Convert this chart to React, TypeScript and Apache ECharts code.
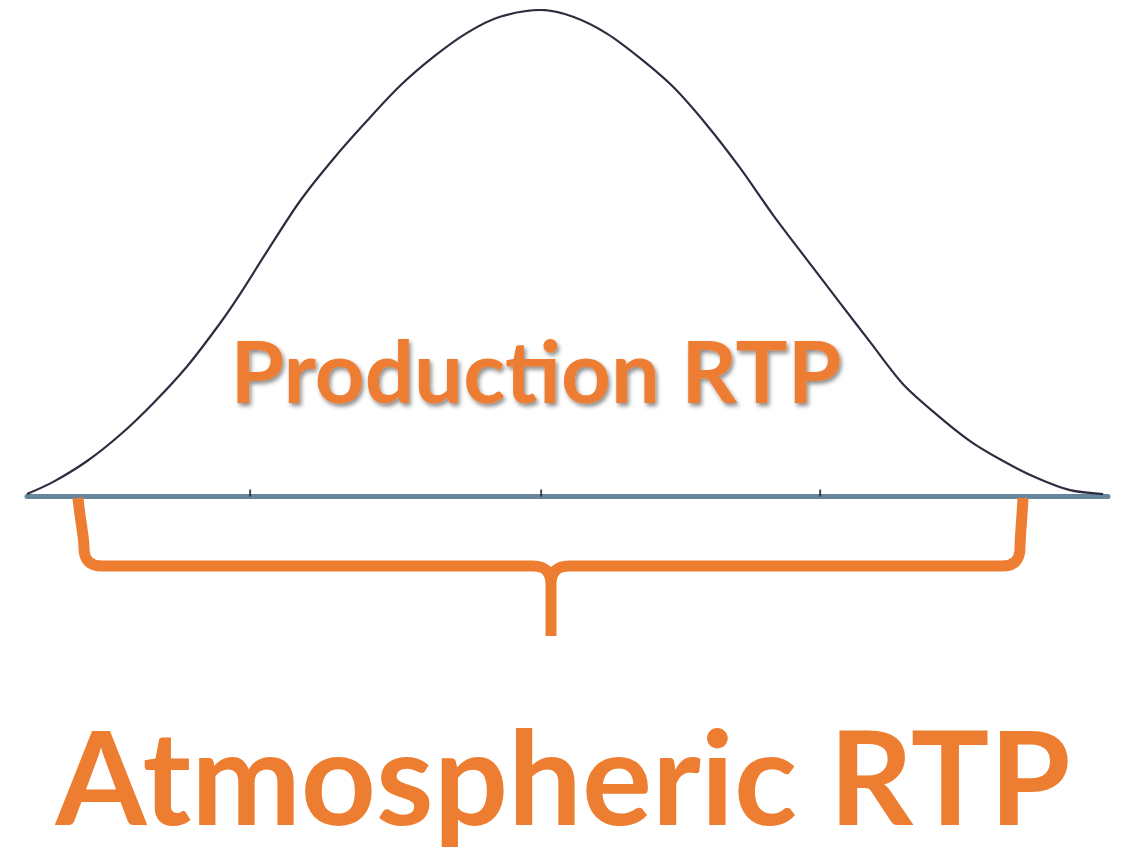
import React, { useEffect, useRef } from "react";
import * as echarts from "echarts";

// Bell curve: x in "sigma-like" units (0 = peak), y relative to peak height
const curveX = [
  -1.804, -1.712, -1.593, -1.477, -1.361, -1.242, -1.126, -1.056, -0.961, -0.846,
  -0.73, -0.611, -0.495, -0.379, -0.26, -0.144, 0, 0.112, 0.232, 0.347,
  0.463, 0.582, 0.698, 0.814, 0.933, 1.049, 1.154, 1.27, 1.389, 1.505,
  1.621, 1.74, 1.856, 1.972,
];
const curveY = [
  0.004, 0.029, 0.072, 0.126, 0.191, 0.267, 0.356, 0.416, 0.504, 0.607,
  0.693, 0.772, 0.844, 0.903, 0.953, 0.986, 1.0, 0.986, 0.951, 0.901,
  0.842, 0.763, 0.675, 0.578, 0.486, 0.397, 0.317, 0.23, 0.167, 0.113,
  0.072, 0.037, 0.012, 0.004,
];
// small tick marks on the baseline
const tickX = [-1.021, 0, 0.979];

const innerLabel = "Production RTP";
const outerLabel = "Atmospheric RTP";

const ORANGE = "#ED7D31";

const bracePath =
  "M 78 498 C 80 520 84 536 84 548 Q 84 566 102 566 L 533 566 Q 551 566 551 584 L 551 636 " +
  "M 569 566 Q 551 566 551 584 " +
  "M 569 566 L 1002 566 Q 1020 566 1020 548 C 1020 536 1022 520 1023 498";

let registered = false;
function ensureShape() {
  if (registered) return;
  registered = true;
  echarts.graphic.registerShape("brace", echarts.graphic.extendPath(bracePath, {}) as any);
}

export default function App() {
  const ref = useRef<HTMLDivElement>(null);
  useEffect(() => {
    if (!ref.current) return;
    ensureShape();
    const chart = echarts.init(ref.current, null, { renderer: "svg" });
    const data = curveX.map((x, i) => [x, curveY[i]]);
    chart.setOption({
      animation: false,
      backgroundColor: "#ffffff",
      grid: { left: 27, right: 17, top: 10, bottom: 356 },
      xAxis: {
        type: "value",
        min: -1.804,
        max: 1.989,
        axisLine: {
          show: true,
          onZero: false,
          lineStyle: { color: "#65869d", width: 5 },
        },
        axisTick: { show: false },
        axisLabel: { show: false },
        splitLine: { show: false },
        z: 1,
      },
      yAxis: {
        type: "value",
        min: 0,
        max: 1,
        axisLine: { show: false },
        axisTick: { show: false },
        axisLabel: { show: false },
        splitLine: { show: false },
      },
      series: [
        {
          type: "line",
          data,
          smooth: 0.3,
          symbol: "none",
          lineStyle: { color: "#2d2d3f", width: 2.2 },
          z: 3,
        },
        {
          type: "scatter",
          data: tickX.map((x) => [x, 0]),
          symbol: "rect",
          symbolSize: [2, 7],
          symbolOffset: [0, -3],
          itemStyle: { color: "#222222" },
          z: 4,
        },
      ],
      graphic: [
        {
          type: "brace",
          x: 0,
          y: 0,
          style: { stroke: ORANGE, lineWidth: 11, fill: "none", lineCap: "butt", lineJoin: "round" },
          z: 10,
        },
        {
          type: "text",
          x: 536,
          y: 369,
          style: {
            text: innerLabel,
            font: "bold 87px Lato",
            fill: ORANGE,
            align: "center",
            verticalAlign: "middle",
            textShadowColor: "rgba(0,0,0,0.45)",
            textShadowBlur: 4,
            textShadowOffsetX: 2,
            textShadowOffsetY: 3,
          },
          z: 10,
        },
        {
          type: "text",
          x: 563,
          y: 774,
          style: {
            text: outerLabel,
            font: "bold 131px Lato",
            fill: ORANGE,
            align: "center",
            verticalAlign: "middle",
          },
          z: 10,
        },
      ],
    });
    return () => chart.dispose();
  }, []);
  return (
    <div
      ref={ref}
      style={{ position: "absolute", left: 0, top: 0, width: 1125, height: 852, background: "#fff" }}
    />
  );
}
